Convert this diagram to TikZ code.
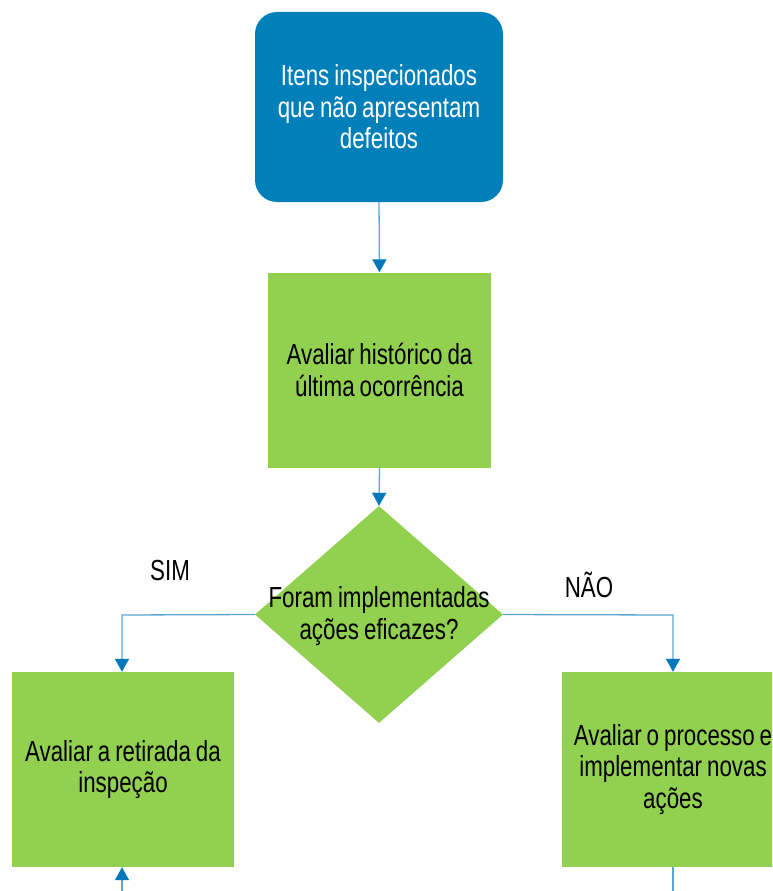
\documentclass[tikz,border=0pt]{standalone}
\usepackage{fontspec}
\setmainfont[FakeStretch=0.77,WordSpace=0.8]{Liberation Sans}
\usetikzlibrary{arrows.meta,shapes.geometric}
\definecolor{startblue}{RGB}{0,128,186}
\definecolor{stepgreen}{RGB}{146,208,80}
\definecolor{linkblue}{RGB}{91,166,212}
\definecolor{tipblue}{RGB}{0,120,186}
\tikzset{
  flowtext/.style={font=\fontsize{29}{31.5}\selectfont, align=center},
  startbox/.style={flowtext, fill=startblue, text=white, rounded corners=22pt,
    minimum width=248pt, minimum height=190pt, inner sep=0pt},
  stepbox/.style={flowtext, fill=stepgreen, text=black,
    minimum height=195pt, inner sep=0pt},
  choice/.style={fill=stepgreen, diamond, inner sep=0pt,
    minimum width=248pt, minimum height=217pt, aspect=1.14},
  link/.style={draw=linkblue, line width=1.3pt,
    -{Triangle[width=14pt,length=13pt,color=tipblue]}},
  plainlink/.style={draw=linkblue, line width=1.3pt},
  answer/.style={font=\fontsize{29}{30}\selectfont, text=black}
}
\begin{document}
\begin{tikzpicture}[x=1pt,y=-1pt]
  \useasboundingbox (0,0) rectangle (772,891);
  \clip (0,0) rectangle (772,891);
  \fill[white] (0,0) rectangle (772,891);

  % process nodes
  \node[startbox] (start) at (379,107) {Itens inspecionados\\que não apresentam\\defeitos};
  \node[stepbox, minimum width=223pt] (hist) at (379.5,370)
    {Avaliar histórico da\\última ocorrência};
  \node[choice] (dec) at (379,614.5) {};
  \node[flowtext] (dectext) at (379,616) {Foram implementadas\\ações eficazes?};
  \node[stepbox, minimum width=222pt] (yes) at (123,769.5)
    {Avaliar a retirada da\\inspeção};
  \node[stepbox, minimum width=222pt] (no) at (673,769.5)
    {Avaliar o processo e\\implementar novas\\ações};

  % branch labels
  \node[answer] (sim) at (170,571) {SIM};
  \node[answer] (nao) at (589,585) {NÃO};

  % connector corners and loose ends
  \coordinate (yescorner) at (122,615);
  \coordinate (nocorner) at (673,615);
  \coordinate (yesfeed) at (122,895);
  \coordinate (noexit) at (673,895);

  % connectors
  \draw[link] (start.south) -- (hist.north);
  \draw[link] (hist.south) -- (dec.north);
  \draw[link] (dec.west) -- (yescorner) -- (yes.north -| yescorner);
  \draw[link] (dec.east) -- (nocorner) -- (no.north);
  \draw[link] (yesfeed) -- (yes.south -| yesfeed);
  \draw[plainlink] (no.south) -- (noexit);
\end{tikzpicture}
\end{document}
